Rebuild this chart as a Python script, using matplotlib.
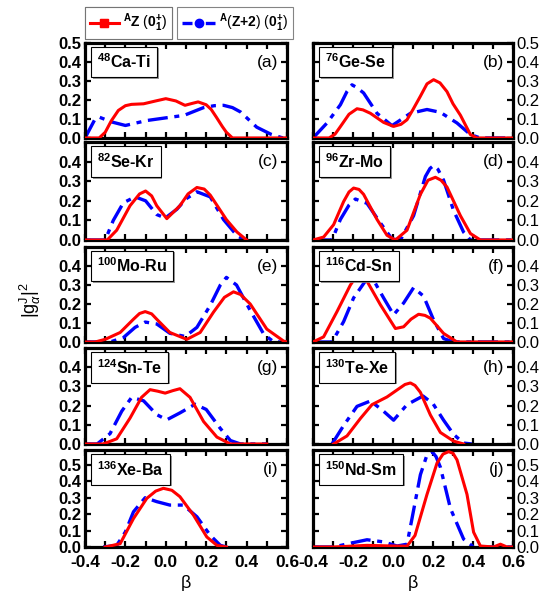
import numpy as np
import matplotlib
matplotlib.use("Agg")
import matplotlib.pyplot as plt
from matplotlib.lines import Line2D
from matplotlib.ticker import MultipleLocator, FormatStrFormatter
import matplotlib.patheffects as pe

plt.rcParams['font.family'] = ['Liberation Sans', 'DejaVu Sans']
plt.rcParams['mathtext.fontset'] = 'custom'
plt.rcParams['mathtext.rm'] = 'Liberation Sans'
plt.rcParams['mathtext.it'] = 'Liberation Sans:italic'
plt.rcParams['mathtext.bf'] = 'Liberation Sans:bold'

# --- data: (beta, |g|^2) for AZ (red) and A(Z+2) (blue) ---
a_z_beta = [-0.4, -0.33, -0.30, -0.27, -0.235, -0.20, -0.17, -0.11, -0.05, 0.0, 0.05, 0.095, 0.13, 0.16, 0.20, 0.225, 0.25, 0.28, 0.30, 0.33, 0.6]
a_z_g = [0.0, 0.0, 0.03, 0.09, 0.145, 0.170, 0.177, 0.18, 0.195, 0.207, 0.195, 0.172, 0.182, 0.19, 0.175, 0.15, 0.11, 0.06, 0.03, 0.0, 0.0]
a_z2_beta = [-0.4, -0.38, -0.35, -0.33, -0.27, -0.2, -0.094, 0.0, 0.09, 0.187, 0.24, 0.286, 0.33, 0.37, 0.45, 0.52, 0.58, 0.6]
a_z2_g = [0.0, 0.04, 0.10, 0.11, 0.085, 0.066, 0.092, 0.106, 0.119, 0.16, 0.17, 0.172, 0.16, 0.137, 0.057, 0.02, 0.0, 0.0]

b_z_beta = [-0.4, -0.32, -0.29, -0.263, -0.22, -0.18, -0.15, -0.113, -0.047, 0.003, 0.04, 0.07, 0.10, 0.137, 0.17, 0.203, 0.235, 0.27, 0.30, 0.337, 0.387, 0.42, 0.6]
b_z_g = [0.0, 0.0, 0.02, 0.06, 0.125, 0.154, 0.148, 0.13, 0.082, 0.061, 0.072, 0.096, 0.15, 0.22, 0.285, 0.307, 0.29, 0.244, 0.18, 0.12, 0.018, 0.0, 0.0]
b_z2_beta = [-0.4, -0.33, -0.263, -0.23, -0.205, -0.18, -0.147, -0.08, -0.005, 0.087, 0.17, 0.237, 0.32, 0.387, 0.437, 0.6]
b_z2_g = [0.0, 0.079, 0.175, 0.245, 0.28, 0.265, 0.237, 0.13, 0.065, 0.13, 0.15, 0.135, 0.079, 0.018, 0.0, 0.0]

c_z_beta = [-0.4, -0.29, -0.243, -0.177, -0.13, -0.10, -0.07, -0.045, 0.005, 0.07, 0.11, 0.154, 0.19, 0.22, 0.30, 0.352, 0.40]
c_z_g = [0.0, 0.0, 0.05, 0.175, 0.235, 0.25, 0.225, 0.175, 0.109, 0.175, 0.235, 0.268, 0.26, 0.229, 0.104, 0.041, 0.0]
c_z2_beta = [-0.4, -0.30, -0.26, -0.21, -0.152, -0.10, -0.045, -0.003, 0.055, 0.10, 0.154, 0.22, 0.286, 0.352, 0.39]
c_z2_g = [0.0, 0.0, 0.10, 0.19, 0.22, 0.20, 0.13, 0.112, 0.157, 0.21, 0.246, 0.22, 0.104, 0.023, 0.0]

d_z_beta = [-0.4, -0.347, -0.297, -0.247, -0.22, -0.197, -0.17, -0.147, -0.08, -0.03, 0.012, 0.07, 0.137, 0.175, 0.212, 0.24, 0.27, 0.337, 0.387, 0.437, 0.6]
d_z_g = [0.0, 0.015, 0.078, 0.196, 0.245, 0.265, 0.258, 0.233, 0.105, 0.024, 0.0, 0.05, 0.233, 0.305, 0.32, 0.305, 0.27, 0.124, 0.033, 0.0, 0.0]
d_z2_beta = [-0.4, -0.305, -0.263, -0.22, -0.188, -0.13, -0.063, -0.005, 0.037, 0.103, 0.162, 0.185, 0.203, 0.225, 0.253, 0.303, 0.353, 0.387, 0.6]
d_z2_g = [0.0, 0.0, 0.105, 0.178, 0.209, 0.187, 0.087, 0.005, 0.0, 0.124, 0.324, 0.365, 0.38, 0.36, 0.305, 0.15, 0.04, 0.0, 0.0]

e_z_beta = [-0.4, -0.35, -0.30, -0.226, -0.16, -0.13, -0.102, -0.07, -0.045, 0.02, 0.104, 0.17, 0.236, 0.29, 0.335, 0.37, 0.418, 0.50, 0.583, 0.6]
e_z_g = [0.0, 0.0, 0.014, 0.05, 0.12, 0.15, 0.16, 0.148, 0.12, 0.05, 0.014, 0.05, 0.157, 0.235, 0.264, 0.25, 0.2, 0.068, 0.005, 0.0]
e_z2_beta = [-0.4, -0.276, -0.21, -0.152, -0.102, -0.045, 0.02, 0.096, 0.154, 0.22, 0.27, 0.30, 0.35, 0.418, 0.485, 0.535, 0.6]
e_z2_g = [0.0, 0.0, 0.023, 0.077, 0.105, 0.095, 0.046, 0.029, 0.077, 0.193, 0.30, 0.34, 0.3, 0.166, 0.041, 0.0, 0.0]

f_z_beta = [-0.4, -0.347, -0.28, -0.213, -0.19, -0.172, -0.15, -0.13, -0.063, 0.012, 0.053, 0.09, 0.128, 0.16, 0.187, 0.253, 0.32, 0.6]
f_z_g = [0.0, 0.027, 0.16, 0.30, 0.335, 0.345, 0.338, 0.32, 0.196, 0.071, 0.08, 0.12, 0.146, 0.14, 0.125, 0.045, 0.0, 0.0]
f_z2_beta = [-0.4, -0.305, -0.247, -0.197, -0.138, -0.105, -0.047, 0.003, 0.053, 0.103, 0.153, 0.203, 0.253, 0.303, 0.6]
f_z2_g = [0.0, 0.0, 0.107, 0.232, 0.321, 0.34, 0.232, 0.143, 0.205, 0.286, 0.241, 0.116, 0.018, 0.0, 0.0]

g_z_beta = [-0.4, -0.31, -0.243, -0.177, -0.12, -0.078, -0.04, -0.003, 0.035, 0.07, 0.12, 0.187, 0.253, 0.32, 0.5]
g_z_g = [0.0, 0.0, 0.027, 0.135, 0.243, 0.283, 0.275, 0.265, 0.278, 0.288, 0.243, 0.117, 0.036, 0.0, 0.0]
g_z2_beta = [-0.4, -0.34, -0.276, -0.218, -0.169, -0.11, -0.045, 0.005, 0.07, 0.145, 0.20, 0.27, 0.32, 0.37, 0.5]
g_z2_g = [0.0, 0.0, 0.054, 0.171, 0.243, 0.225, 0.153, 0.126, 0.162, 0.207, 0.18, 0.081, 0.018, 0.0, 0.0]

h_z_beta = [-0.297, -0.23, -0.163, -0.105, -0.03, 0.028, 0.06, 0.087, 0.11, 0.137, 0.187, 0.237, 0.303, 0.353]
h_z_g = [0.0, 0.042, 0.133, 0.205, 0.245, 0.287, 0.31, 0.318, 0.305, 0.269, 0.151, 0.06, 0.015, 0.0]
h_z2_beta = [-0.305, -0.247, -0.18, -0.113, -0.055, 0.003, 0.07, 0.15, 0.20, 0.253, 0.303, 0.353, 0.395]
h_z2_g = [0.0, 0.096, 0.196, 0.224, 0.178, 0.124, 0.205, 0.25, 0.21, 0.124, 0.05, 0.005, 0.0]

i_z_beta = [-0.30, -0.226, -0.16, -0.094, -0.05, -0.012, 0.03, 0.07, 0.137, 0.203, 0.253, 0.30]
i_z_g = [0.0, 0.02, 0.173, 0.296, 0.34, 0.357, 0.345, 0.306, 0.194, 0.061, 0.01, 0.0]
i_z2_beta = [-0.31, -0.243, -0.20, -0.16, -0.102, -0.045, 0.02, 0.087, 0.154, 0.22, 0.27, 0.30]
i_z2_g = [0.0, 0.01, 0.092, 0.214, 0.30, 0.276, 0.255, 0.255, 0.184, 0.071, 0.01, 0.0]

j_z_beta = [-0.4, -0.297, -0.13, 0.003, 0.07, 0.11, 0.17, 0.22, 0.25, 0.278, 0.30, 0.32, 0.37, 0.403, 0.437, 0.503, 0.537, 0.57, 0.6]
j_z_g = [0.0, 0.0, 0.01, 0.006, 0.005, 0.07, 0.32, 0.51, 0.565, 0.58, 0.57, 0.53, 0.32, 0.09, 0.006, 0.0, 0.017, 0.0, 0.0]
j_z2_beta = [-0.4, -0.297, -0.213, -0.13, -0.047, 0.02, 0.07, 0.095, 0.137, 0.17, 0.195, 0.215, 0.237, 0.287, 0.353, 0.403, 0.6]
j_z2_g = [0.0, 0.0, 0.023, 0.044, 0.031, 0.006, 0.017, 0.173, 0.44, 0.56, 0.58, 0.55, 0.485, 0.235, 0.048, 0.0, 0.0]

nuclei = ["48Ca-Ti", "76Ge-Se", "82Se-Kr", "96Zr-Mo", "100Mo-Ru",
          "116Cd-Sn", "124Sn-Te", "130Te-Xe", "136Xe-Ba", "150Nd-Sm"]
tags = ["(a)", "(b)", "(c)", "(d)", "(e)", "(f)", "(g)", "(h)", "(i)", "(j)"]

red_curves = [(a_z_beta, a_z_g), (b_z_beta, b_z_g), (c_z_beta, c_z_g), (d_z_beta, d_z_g),
              (e_z_beta, e_z_g), (f_z_beta, f_z_g), (g_z_beta, g_z_g), (h_z_beta, h_z_g),
              (i_z_beta, i_z_g), (j_z_beta, j_z_g)]
blue_curves = [(a_z2_beta, a_z2_g), (b_z2_beta, b_z2_g), (c_z2_beta, c_z2_g), (d_z2_beta, d_z2_g),
               (e_z2_beta, e_z2_g), (f_z2_beta, f_z2_g), (g_z2_beta, g_z2_g), (h_z2_beta, h_z2_g),
               (i_z2_beta, i_z2_g), (j_z2_beta, j_z2_g)]

W, H = 541, 591
fig = plt.figure(figsize=(W / 100, H / 100), dpi=100)

row_top = [43, 142, 247, 348, 450]
row_bot = [138, 240, 342, 444, 547]
col_left = [85, 313]
col_right = [287, 513]

red_c = "#ff0000"
blue_c = "#0000ff"
dashdot = (0, (6, 2.0, 1.5, 2.0))

for k in range(10):
    r, c = k // 2, k % 2
    ax = fig.add_axes([col_left[c] / W, 1 - row_bot[r] / H,
                       (col_right[c] - col_left[c]) / W, (row_bot[r] - row_top[r]) / H])
    bx, by = red_curves[k]
    ax.plot(bx, by, color=red_c, lw=2.2, zorder=3, solid_joinstyle='round')
    bx, by = blue_curves[k]
    ax.plot(bx, by, color=blue_c, lw=2.4, ls=dashdot, zorder=2)

    ax.set_xlim(-0.4, 0.6)
    ax.xaxis.set_major_locator(MultipleLocator(0.2))
    ax.xaxis.set_minor_locator(MultipleLocator(0.1))
    if r == 4:
        ax.set_ylim(0, 0.59)
        ax.set_yticks([0, 0.1, 0.2, 0.3, 0.4, 0.5])
        ax.set_xlabel("β", fontsize=13, labelpad=3)
    else:
        ax.set_ylim(0, 0.5)
        if r == 0:
            ax.set_yticks([0, 0.1, 0.2, 0.3, 0.4, 0.5])
        else:
            ax.set_yticks([0, 0.1, 0.2, 0.3, 0.4])
        ax.tick_params(labelbottom=False)
    ax.tick_params(which='both', direction='in', top=True, right=True, width=1.6, length=4.5)
    ax.tick_params(axis='x', pad=6, labelsize=12.5)
    ax.tick_params(axis='y', pad=2.5, labelsize=12)
    ax.yaxis.set_major_formatter(FormatStrFormatter('%.1f'))
    ax.xaxis.set_major_formatter(FormatStrFormatter('%.1f'))
    for lab in ax.get_xticklabels() + ax.get_yticklabels():
        lab.set_fontweight('bold')
    if c == 1:
        ax.tick_params(labelleft=False, labelright=True)
    for sp in ax.spines.values():
        sp.set_linewidth(2.3)

    mass = ''.join(ch for ch in nuclei[k] if ch.isdigit())
    name = nuclei[k][len(mass):]
    t = ax.text(0.06, 0.80, r"$^{\mathbf{%s}}$%s" % (mass, name), transform=ax.transAxes,
                ha='left', va='center', fontsize=11.5, fontweight='bold',
                bbox=dict(boxstyle='square,pad=0.38', fc='white', ec='black', lw=0.8))
    t.get_bbox_patch().set_path_effects([pe.SimplePatchShadow(offset=(1.2, -1.2), shadow_rgbFace='0.5', alpha=0.8), pe.Normal()])
    ax.text(0.955, 0.80, tags[k], transform=ax.transAxes, ha='right', va='center', fontsize=12.5)

fig.text(30 / W, 1 - 300 / H, r"$|\mathrm{g}^{\mathrm{J}}_{\alpha}|^{2}$", rotation=90,
         ha='center', va='center', fontsize=13)

h_red = Line2D([], [], color=red_c, lw=2.2, marker='s', markersize=5.5)
h_blue = Line2D([], [], color=blue_c, lw=2.4, ls=(0, (3, 1.5, 1, 1.5)), marker='o', markersize=6)
leg1 = fig.legend([h_red], [r"$^{\mathbf{A}}\mathbf{Z}\ (\mathbf{0}^{\mathbf{+}}_{\mathbf{1}})$"],
                  loc='upper left', bbox_to_anchor=(85 / W, 1 - 7 / H), frameon=True, fancybox=False,
                  handlelength=2.1, handletextpad=0.3, borderpad=0.35, borderaxespad=0, fontsize=10)
leg1.get_frame().set_edgecolor('0.4')
leg1.get_frame().set_linewidth(0.8)
leg2 = fig.legend([h_blue], [r"$^{\mathbf{A}}(\mathbf{Z}\mathbf{+}\mathbf{2})\ (\mathbf{0}^{\mathbf{+}}_{\mathbf{1}})$"],
                  loc='upper left', bbox_to_anchor=(177 / W, 1 - 7 / H), frameon=True, fancybox=False,
                  handlelength=2.4, handletextpad=0.3, borderpad=0.35, borderaxespad=0, fontsize=10)
leg2.get_frame().set_edgecolor('0.4')
leg2.get_frame().set_linewidth(0.8)
fig.add_artist(leg1)

fig.savefig("out.png", dpi=100)
